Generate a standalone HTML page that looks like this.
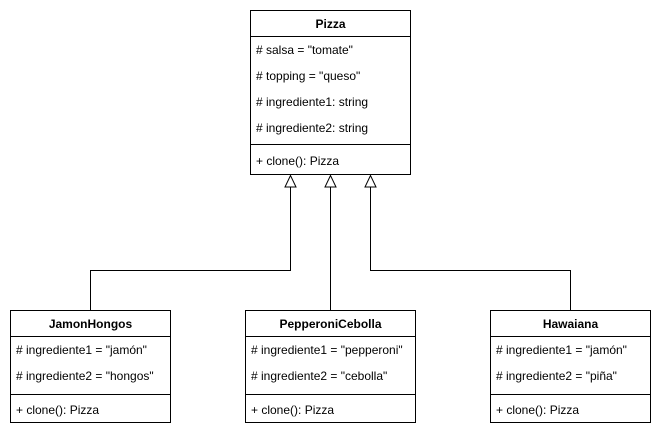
<!DOCTYPE html>
<html><head><meta charset="utf-8"><style>
html,body{margin:0;padding:0;background:#fff;}
svg{display:block;}
text{font-family:"Liberation Sans",Arial,sans-serif;font-size:12px;fill:#000;}
.b{font-weight:bold;}
</style></head><body>
<svg width="661" height="436" viewBox="0 0 661 436" xmlns="http://www.w3.org/2000/svg">
<g fill="none" stroke="#000" stroke-width="1">
<rect x="250.5" y="10.5" width="160" height="164"/>
<line x1="250" y1="36.5" x2="411" y2="36.5"/>
<line x1="250" y1="144.5" x2="411" y2="144.5"/>
<rect x="10.5" y="310.5" width="160" height="112"/>
<line x1="10" y1="336.5" x2="171" y2="336.5"/>
<line x1="10" y1="394.5" x2="171" y2="394.5"/>
<rect x="245.5" y="310.5" width="170" height="112"/>
<line x1="245" y1="336.5" x2="416" y2="336.5"/>
<line x1="245" y1="394.5" x2="416" y2="394.5"/>
<rect x="490.5" y="310.5" width="160" height="112"/>
<line x1="490" y1="336.5" x2="651" y2="336.5"/>
<line x1="490" y1="394.5" x2="651" y2="394.5"/>
<polyline points="90.5,310 90.5,270.5 290.5,270.5 290.5,187"/>
<line x1="330.5" y1="310" x2="330.5" y2="187"/>
<polyline points="570.5,310 570.5,270.5 370.5,270.5 370.5,187"/>
<polygon points="290.5,175.5 285,187 296,187" fill="#fff"/>
<polygon points="330.5,175.5 325,187 336,187" fill="#fff"/>
<polygon points="370.5,175.5 365,187 376,187" fill="#fff"/>
</g>
<text class="b" x="330.5" y="28" text-anchor="middle">Pizza</text>
<text x="256" y="54"># salsa = "tomate"</text>
<text x="256" y="80"># topping = "queso"</text>
<text x="256" y="106"># ingrediente1: string</text>
<text x="256" y="132"># ingrediente2: string</text>
<text x="256" y="165">+ clone(): Pizza</text>

<text class="b" x="90.5" y="328" text-anchor="middle">JamonHongos</text>
<text x="16" y="354"># ingrediente1 = "jamón"</text>
<text x="16" y="380"># ingrediente2 = "hongos"</text>
<text x="16" y="414">+ clone(): Pizza</text>

<text class="b" x="330.5" y="328" text-anchor="middle">PepperoniCebolla</text>
<text x="251" y="354"># ingrediente1 = "pepperoni"</text>
<text x="251" y="380"># ingrediente2 = "cebolla"</text>
<text x="251" y="414">+ clone(): Pizza</text>

<text class="b" x="570.5" y="328" text-anchor="middle">Hawaiana</text>
<text x="496" y="354"># ingrediente1 = "jamón"</text>
<text x="496" y="380"># ingrediente2 = "piña"</text>
<text x="496" y="414">+ clone(): Pizza</text>
</svg>
</body></html>
